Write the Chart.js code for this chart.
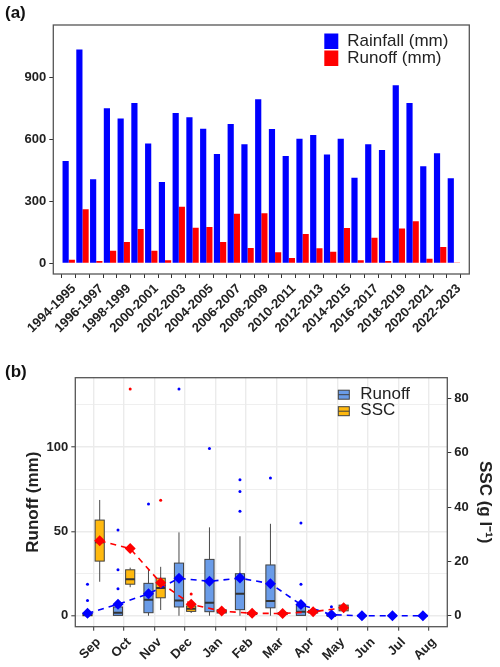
<!DOCTYPE html>
<html>
<head>
<meta charset="utf-8">
<script src="https://cdn.jsdelivr.net/npm/chart.js@4.4.1/dist/chart.umd.min.js"></script>
<style>
  body { margin: 0; background: #fff; font-family: "Liberation Sans", Arial, sans-serif; }
  #wrap { position: relative; width: 500px; height: 667px; overflow: hidden; }
  canvas { position: absolute; left: 0; }
  .tag { position: absolute; left: 5px; font-weight: bold; font-size: 17px; color: #111; }
</style>
</head>
<body>
<div id="wrap">
  <canvas id="chartA" width="500" height="340" style="top:0"></canvas>
  <canvas id="chartB" width="500" height="337" style="top:330px"></canvas>
  <div class="tag" style="top:3px">(a)</div>
  <div class="tag" style="top:362px">(b)</div>
</div>
<script>
// panel (a): annual rainfall / runoff
const years = ['1994-1995','1995-1996','1996-1997','1997-1998','1998-1999','1999-2000','2000-2001',
  '2001-2002','2002-2003','2003-2004','2004-2005','2005-2006','2006-2007','2007-2008','2008-2009',
  '2009-2010','2010-2011','2011-2012','2012-2013','2013-2014','2014-2015','2015-2016','2016-2017',
  '2017-2018','2018-2019','2019-2020','2020-2021','2021-2022','2022-2023'];
const rainfall = [495,1035,406,750,700,776,579,393,727,706,651,529,674,576,794,650,519,602,621,526,603,414,576,548,861,776,469,532,411];
const runoffYear = [17,261,11,60,103,166,60,15,274,172,176,103,239,74,242,53,26,142,73,56,171,15,124,11,168,203,22,79,1];
const ticksA = [0,300,600,900];

// panel (b): monthly box plots
const months = ['Sep','Oct','Nov','Dec','Jan','Feb','Mar','Apr','May','Jun','Jul','Aug'];
const runoffLow  = [0,0,0,0,0,0,0,0,0,0,0,0];
const runoffQ1   = [0,0.2,1.8,5.2,2.4,3.6,4.7,0.2,0,0,0,0];
const runoffMed  = [0.4,1.8,9.5,9.1,7.7,13.0,8.7,2.4,0,0,0,0];
const runoffQ3   = [1.5,5.2,19.2,31.2,33.4,24.9,30.1,6.3,0.3,0,0,0];
const runoffHigh = [3,9,27.7,49.4,52.4,47.1,54.5,9,0.6,0,0,0];
const runoffMean = [1.4,6.8,13.0,22.2,20.4,22.3,19.0,6.6,0.6,0,0,0];
const runoffOut  = [[9.1,18.6],[16.0,27.3,50.8],[66.2],[134.4],[99.2],[61.9,73.7,80.6],[81.6],[18.6,55.0],[5.3],[],[],[]];

const sscLow  = [12.5,10.5,2.1,1.0,0.6,0.3,0.3,0.7,1.2,null,null,null];
const sscQ1   = [20.1,11.6,6.6,1.6,1.0,0.5,0.5,1.0,1.8,null,null,null];
const sscMed  = [27,13.4,10.2,2.6,1.5,0.8,0.8,1.4,2.8,null,null,null];
const sscQ3   = [35.2,16.9,13.8,3.6,2.2,1.2,1.1,2.0,3.9,null,null,null];
const sscHigh = [42.6,17.7,18.0,5.2,3.0,1.6,1.5,2.6,4.5,null,null,null];
const sscMean = [27.6,24.7,12.1,4.2,1.7,0.9,0.8,1.5,2.9,null,null,null];
const sscOut  = [[],[83.4],[42.5],[8.0],[],[],[],[],[],[],[],[]];

const ticksRunoff = [0,25,50,75,100,125];
const ticksSSC = [0,20,40,60,80];

const FONT = '"Liberation Sans", Arial, sans-serif';
const tickFont = { family: FONT, size: 13, weight: 'bold' };

// border around the plot panel
const framePlugin = {
  id: 'frame',
  afterDraw(chart) {
    const { ctx, chartArea: a } = chart;
    ctx.save();
    ctx.strokeStyle = '#555';
    ctx.lineWidth = 1.3;
    ctx.strokeRect(a.left, a.top, a.right - a.left, a.bottom - a.top);
    ctx.restore();
  }
};

const legendA = {
  id: 'legendA',
  afterDraw(chart) {
    const { ctx, chartArea: a } = chart;
    const x0 = a.right - 145;
    const items = [
      { text: 'Rainfall (mm)', color: '#0000FF', y: a.top + 8.5 },
      { text: 'Runoff (mm)', color: '#FF0000', y: a.top + 25.5 }
    ];
    ctx.save();
    ctx.font = '17px ' + FONT;
    ctx.textBaseline = 'middle';
    items.forEach(it => {
      ctx.fillStyle = it.color;
      ctx.fillRect(x0, it.y, 14, 15.5);
      ctx.fillStyle = '#222';
      ctx.fillText(it.text, x0 + 23, it.y + 8.2);
    });
    ctx.restore();
  }
};

new Chart(document.getElementById('chartA'), {
  type: 'bar',
  data: {
    datasets: [
      {
        label: 'Rainfall (mm)',
        data: rainfall.map((v, i) => ({ x: i, y: v })),
        backgroundColor: '#0000FF',
        borderWidth: 0,
        categoryPercentage: 0.9,
        barPercentage: 1
      },
      {
        label: 'Runoff (mm)',
        data: runoffYear.map((v, i) => ({ x: i, y: v })),
        backgroundColor: '#FF0000',
        borderWidth: 0,
        categoryPercentage: 0.9,
        barPercentage: 1
      }
    ]
  },
  options: {
    responsive: false,
    animation: false,
    layout: { padding: { top: 25, right: 30.7, left: 0, bottom: 0 } },
    plugins: { legend: { display: false }, tooltip: { enabled: false } },
    scales: {
      x: {
        type: 'linear',
        min: -0.6,
        max: 28.6,
        afterBuildTicks: s => { s.ticks = years.map((_, i) => ({ value: i })); },
        afterFit: s => { s.height = 66; },
        border: { display: false },
        grid: { drawOnChartArea: false, drawTicks: true, tickLength: 4, tickColor: '#333', tickWidth: 1 },
        ticks: {
          autoSkip: false, minRotation: 45, maxRotation: 45, padding: 3, labelOffset: 5,
          font: tickFont, color: '#222',
          callback: v => (v % 2 === 0 ? years[v] : '')
        }
      },
      y: {
        min: -52,
        max: 1153,
        afterBuildTicks: s => { s.ticks = ticksA.map(v => ({ value: v })); },
        afterFit: s => { s.width = 53.3; },
        border: { display: false },
        grid: { drawOnChartArea: false, drawTicks: true, tickLength: 4, tickColor: '#333', tickWidth: 1 },
        ticks: { font: tickFont, color: '#222', padding: 3 }
      }
    }
  },
  plugins: [framePlugin, legendA]
});

// box, whiskers and median, drawn through the chart scales
function drawBoxes(chart, yScale, lo, q1, med, q3, hi, shift, fill) {
  const ctx = chart.ctx;
  const x = chart.scales.x;
  const half = x.getPixelForValue(0.15) - x.getPixelForValue(0);
  months.forEach((m, i) => {
    if (q1[i] == null) return;
    const cx = x.getPixelForValue(i + shift);
    const yLo = yScale.getPixelForValue(lo[i]);
    const yQ1 = yScale.getPixelForValue(q1[i]);
    const yMed = yScale.getPixelForValue(med[i]);
    const yQ3 = yScale.getPixelForValue(q3[i]);
    const yHi = yScale.getPixelForValue(hi[i]);
    ctx.strokeStyle = '#4a4a4a';
    ctx.lineWidth = 1;
    ctx.beginPath();
    ctx.moveTo(cx, yHi); ctx.lineTo(cx, yQ3);
    ctx.moveTo(cx, yQ1); ctx.lineTo(cx, yLo);
    ctx.stroke();
    ctx.fillStyle = fill;
    ctx.fillRect(cx - half, yQ3, 2 * half, yQ1 - yQ3);
    ctx.strokeStyle = '#404040';
    ctx.strokeRect(cx - half, yQ3, 2 * half, yQ1 - yQ3);
    ctx.lineWidth = 2;
    ctx.strokeStyle = '#333';
    ctx.beginPath();
    ctx.moveTo(cx - half, yMed); ctx.lineTo(cx + half, yMed);
    ctx.stroke();
  });
}

const boxPlugin = {
  id: 'boxes',
  beforeDatasetsDraw(chart) {
    const ctx = chart.ctx;
    const a = chart.chartArea;
    ctx.save();
    ctx.beginPath();
    ctx.rect(a.left, a.top, a.right - a.left, a.bottom - a.top);
    ctx.clip();
    drawBoxes(chart, chart.scales.y, runoffLow, runoffQ1, runoffMed, runoffQ3, runoffHigh, -0.2, '#6A9CE8');
    drawBoxes(chart, chart.scales.y2, sscLow, sscQ1, sscMed, sscQ3, sscHigh, 0.2, '#FFB90F');
    ctx.restore();
  }
};

const legendB = {
  id: 'legendB',
  afterDraw(chart) {
    const { ctx, chartArea: a } = chart;
    const x0 = a.right - 109;
    const items = [
      { text: 'Runoff', color: '#6A9CE8', y: a.top + 12.5 },
      { text: 'SSC', color: '#FFB90F', y: a.top + 29 }
    ];
    ctx.save();
    ctx.font = '17px ' + FONT;
    ctx.textBaseline = 'middle';
    items.forEach(it => {
      ctx.fillStyle = it.color;
      ctx.fillRect(x0, it.y, 11, 9);
      ctx.strokeStyle = '#404040';
      ctx.lineWidth = 1;
      ctx.strokeRect(x0, it.y, 11, 9);
      ctx.beginPath();
      ctx.moveTo(x0, it.y + 4.5); ctx.lineTo(x0 + 11, it.y + 4.5);
      ctx.stroke();
      ctx.fillStyle = '#222';
      ctx.fillText(it.text, x0 + 22, it.y + 4);
    });
    ctx.restore();
  }
};

const meanStyle = color => ({
  type: 'line',
  borderColor: color,
  borderWidth: 1.6,
  borderDash: [6, 5],
  fill: false,
  tension: 0,
  pointStyle: 'rectRot',
  pointRadius: 5.5,
  pointBackgroundColor: color,
  pointBorderColor: color,
  pointBorderWidth: 0
});

new Chart(document.getElementById('chartB'), {
  type: 'scatter',
  data: {
    datasets: [
      Object.assign(meanStyle('#0000FF'), {
        label: 'Runoff mean',
        data: runoffMean.map((v, i) => ({ x: i - 0.2, y: v })),
        yAxisID: 'y',
        order: 1
      }),
      Object.assign(meanStyle('#FF0000'), {
        label: 'SSC mean',
        data: sscMean.map((v, i) => ({ x: i + 0.2, y: v })).filter(p => p.y != null),
        yAxisID: 'y2',
        order: 0
      }),
      {
        label: 'Runoff outliers',
        data: runoffOut.flatMap((arr, i) => arr.map(v => ({ x: i - 0.2, y: v }))),
        yAxisID: 'y',
        pointRadius: 1.5,
        backgroundColor: '#0000FF',
        borderWidth: 0,
        order: 2
      },
      {
        label: 'SSC outliers',
        data: sscOut.flatMap((arr, i) => arr.map(v => ({ x: i + 0.2, y: v }))),
        yAxisID: 'y2',
        pointRadius: 1.5,
        backgroundColor: '#FF0000',
        borderWidth: 0,
        order: 2
      }
    ]
  },
  options: {
    responsive: false,
    animation: false,
    layout: { padding: { top: 47.7, right: 0, left: 0, bottom: 0 } },
    plugins: { legend: { display: false }, tooltip: { enabled: false } },
    scales: {
      x: {
        type: 'linear',
        min: -0.6,
        max: 11.6,
        afterBuildTicks: s => { s.ticks = months.map((_, i) => ({ value: i })); },
        afterFit: s => { s.height = 40.3; },
        border: { display: false },
        grid: { color: '#EBEBEB', lineWidth: 1.4, drawTicks: true, tickLength: 4, tickColor: '#333', tickWidth: 1 },
        ticks: {
          autoSkip: false, minRotation: 45, maxRotation: 45, padding: 4, labelOffset: 5,
          font: tickFont, color: '#222',
          callback: v => months[v]
        }
      },
      y: {
        position: 'left',
        min: -6.5,
        max: 141.1,
        afterBuildTicks: s => { s.ticks = ticksRunoff.map(v => ({ value: v })); },
        afterFit: s => { s.width = 75.3; },
        border: { display: false },
        grid: {
          color: '#EBEBEB',
          lineWidth: c => (c.tick && c.tick.value % 50 === 0 ? 1.6 : 0.8),
          drawTicks: true,
          tickLength: 4,
          tickWidth: 1,
          tickColor: c => (c.tick && c.tick.value % 50 === 0 ? '#333' : 'rgba(0,0,0,0)')
        },
        ticks: {
          font: tickFont, color: '#222', padding: 3,
          callback: v => (v % 50 === 0 ? v : '')
        },
        title: {
          display: true, text: 'Runoff (mm)', color: '#222',
          font: { family: FONT, size: 17, weight: 'bold' },
          padding: { top: 23, bottom: 0 }
        }
      },
      y2: {
        position: 'right',
        min: -4.04,
        max: 87.6,
        afterBuildTicks: s => { s.ticks = ticksSSC.map(v => ({ value: v })); },
        afterFit: s => { s.width = 52.7; },
        border: { display: false },
        grid: { drawOnChartArea: false, drawTicks: true, tickLength: 4, tickColor: '#333', tickWidth: 1 },
        ticks: { font: tickFont, color: '#222', padding: 3 },
        title: {
          display: true, text: 'SSC (g l\u207B\u00B9)', color: '#222',
          font: { family: FONT, size: 17, weight: 'bold' },
          padding: { top: 5, bottom: 0 }
        }
      }
    }
  },
  plugins: [framePlugin, boxPlugin, legendB]
});
</script>
</body>
</html>
